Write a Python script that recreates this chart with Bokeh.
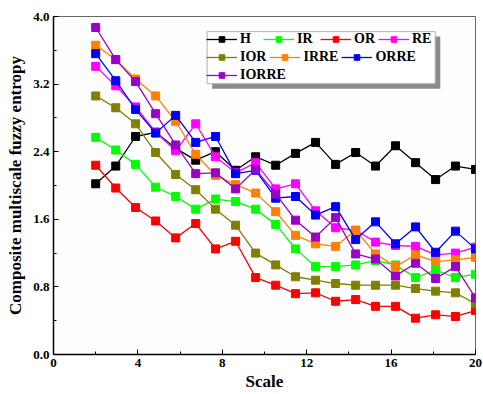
from bokeh.plotting import figure
from bokeh.models import (Range1d, FixedTicker, PrintfTickFormatter, Legend, LegendItem,
                          BoxAnnotation)
from bokeh.embed import file_html
from bokeh.resources import INLINE

scale = [2.00, 2.95, 3.89, 4.84, 5.79, 6.74, 7.68, 8.63, 9.58, 10.53,
         11.47, 12.42, 13.37, 14.32, 15.26, 16.21, 17.16, 18.11, 19.05, 20.00]

H = [2.02, 2.23, 2.58, 2.63, 2.44, 2.30, 2.40, 2.18, 2.34, 2.24,
     2.38, 2.51, 2.25, 2.39, 2.23, 2.47, 2.27, 2.07, 2.23, 2.19]
IR = [2.57, 2.42, 2.25, 1.98, 1.87, 1.72, 1.84, 1.81, 1.72, 1.54,
      1.25, 1.04, 1.04, 1.06, 1.11, 1.06, 0.91, 1.00, 0.91, 0.95]
OR = [2.24, 1.97, 1.74, 1.58, 1.38, 1.55, 1.25, 1.34, 0.91, 0.82,
      0.72, 0.73, 0.63, 0.65, 0.57, 0.57, 0.43, 0.47, 0.45, 0.52]
RE = [3.41, 3.18, 2.93, 2.63, 2.41, 2.73, 2.34, 2.15, 2.27, 1.96,
      2.02, 1.70, 1.50, 1.47, 1.33, 1.29, 1.28, 1.18, 1.20, 1.27]
IOR = [3.06, 2.92, 2.73, 2.39, 2.13, 1.95, 1.72, 1.53, 1.20, 1.06,
       0.92, 0.88, 0.84, 0.82, 0.82, 0.82, 0.78, 0.75, 0.73, 0.60]
IRRE = [3.66, 3.49, 3.26, 3.06, 2.76, 2.37, 2.12, 2.01, 1.91, 1.69,
        1.41, 1.31, 1.28, 1.47, 1.19, 1.04, 1.18, 1.10, 1.12, 1.15]
ORRE = [3.56, 3.24, 2.90, 2.62, 2.83, 2.51, 2.58, 2.14, 2.18, 1.85,
        1.87, 1.65, 1.75, 1.36, 1.57, 1.31, 1.51, 1.21, 1.46, 1.25]
IORRE = [3.87, 3.49, 3.23, 2.85, 2.48, 2.14, 2.15, 1.96, 2.19, 1.90,
         1.59, 1.39, 1.62, 1.19, 1.13, 0.93, 1.08, 0.90, 1.04, 0.67]

series_names = ["H", "IR", "OR", "RE", "IOR", "IRRE", "ORRE", "IORRE"]
series_values = [H, IR, OR, RE, IOR, IRRE, ORRE, IORRE]
colors = ["#000000", "#00FF00", "#FF0000", "#FF00FF", "#808000", "#FF8000", "#0000FF", "#9A00C8"]
legend_rows = [["H", "IR", "OR", "RE"], ["IOR", "IRRE", "ORRE"], ["IORRE"]]

x_ticks = [0, 4, 8, 12, 16, 20]
y_ticks = [0.0, 0.8, 1.6, 2.4, 3.2, 4.0]

FONT = "Liberation Serif"

p = figure(width=483, height=394, output_backend="svg", toolbar_location=None,
           x_range=Range1d(0, 20), y_range=Range1d(0, 4.0),
           min_border_left=53, min_border_right=8, min_border_top=16, min_border_bottom=40)
p.background_fill_color = "#fdfdfd"
p.border_fill_color = "white"
p.outline_line_color = "#666666"
p.outline_line_width = 1
p.xgrid.visible = False
p.ygrid.visible = False

p.xaxis.ticker = FixedTicker(ticks=x_ticks, minor_ticks=[2, 6, 10, 14, 18])
p.yaxis.ticker = FixedTicker(ticks=y_ticks, minor_ticks=[0.4, 1.2, 2.0, 2.8, 3.6])
p.yaxis.formatter = PrintfTickFormatter(format="%.1f")

for ax in (p.xaxis[0], p.yaxis[0]):
    ax.axis_line_color = "black"
    ax.axis_line_width = 1.5
    ax.major_tick_in = 5
    ax.major_tick_out = 0
    ax.minor_tick_in = 3
    ax.minor_tick_out = 0
    ax.major_tick_line_color = "black"
    ax.minor_tick_line_color = "black"
    ax.major_label_text_font = FONT
    ax.major_label_text_font_style = "bold"
    ax.major_label_text_font_size = "13px"
    ax.major_label_text_color = "black"
    ax.axis_label_text_font = FONT
    ax.axis_label_text_font_style = "bold"
    ax.axis_label_text_color = "black"

p.xaxis.axis_label = "Scale"
p.xaxis.axis_label_text_font_size = "17px"
p.xaxis.major_label_standoff = 4
p.xaxis.axis_label_standoff = 2
p.yaxis.axis_label = "Composite multiscale fuzzy entropy"
p.yaxis.axis_label_text_font_size = "17px"
p.yaxis.major_label_standoff = 4
p.yaxis.axis_label_standoff = 5

items = {}
for name, vals, col in zip(series_names, series_values, colors):
    lr = p.line(scale, vals, line_color=col, line_width=1.3)
    sr = p.scatter(scale, vals, marker="square", size=8, fill_color=col, line_color=col)
    items[name] = LegendItem(label=name, renderers=[lr, sr])

# legend frame with drop shadow (decoration only)
shadow = BoxAnnotation(left=7.52, right=18.33, bottom=3.146, top=3.762,
                       fill_color="#8a8a8a", fill_alpha=1.0, line_color=None)
frame_box = BoxAnnotation(left=7.28, right=18.09, bottom=3.205, top=3.821,
                          fill_color="white", fill_alpha=1.0,
                          line_color="#b0b0b0", line_width=1, line_alpha=1.0)
p.add_layout(shadow)
p.add_layout(frame_box)

row_bottoms = [307, 289, 271]
for row, vy in zip(legend_rows, row_bottoms):
    lg = Legend(items=[items[n] for n in row], location=(153, vy), orientation="horizontal",
                label_text_font=FONT, label_text_font_style="bold",
                label_text_font_size="14px", label_text_color="black",
                glyph_width=31, glyph_height=14, label_standoff=3, spacing=3,
                padding=0, margin=0, label_height=16,
                border_line_color=None, background_fill_alpha=0.0)
    p.add_layout(lg, "center")

open("out.html", "w").write(file_html(p, INLINE))
